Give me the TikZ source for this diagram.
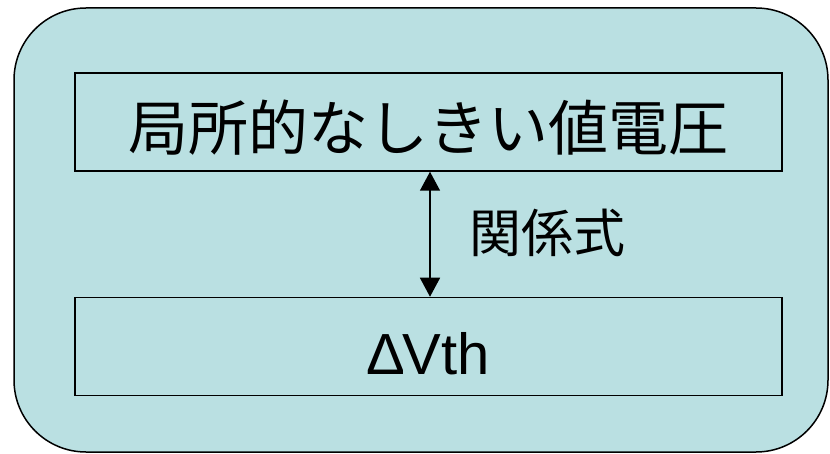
\documentclass[tikz,border=0pt]{standalone}
\usepackage{fontspec}
\setmainfont{Liberation Sans}
\newfontfamily\cjk{Noto Sans CJK JP}
\usetikzlibrary{arrows.meta}
\definecolor{panelblue}{RGB}{186,224,226}
\begin{document}
\begin{tikzpicture}[x=1pt,y=-1pt,
  box/.style={draw=black,line width=1.5pt,minimum width=707pt,minimum height=98pt,inner sep=0pt},
  link/.style={line width=1.5pt,{Triangle[width=20pt,length=19pt]}-{Triangle[width=20pt,length=19pt]}}]
\useasboundingbox (0,0) rectangle (830,454);
\draw[fill=panelblue,line width=1.5pt,rounded corners=72pt] (14,8) rectangle (828,452);
\node[box] (top) at (428.5,122) {};
\node[font=\cjk\fontsize{60}{60}\selectfont] (toptext) at (428,128) {局所的なしきい値電圧};
\node[box] (bot) at (428.5,346.5) {};
\node[font=\fontsize{58}{58}\selectfont] (bottext) at (428,354) {Δ\kern-2pt Vth};
\draw[link] (top.south -| 430,0) -- (bot.north -| 430,0);
\node[font=\cjk\fontsize{52}{52}\selectfont,anchor=west] (rel) at (466,233) {関係式};
\end{tikzpicture}
\end{document}
